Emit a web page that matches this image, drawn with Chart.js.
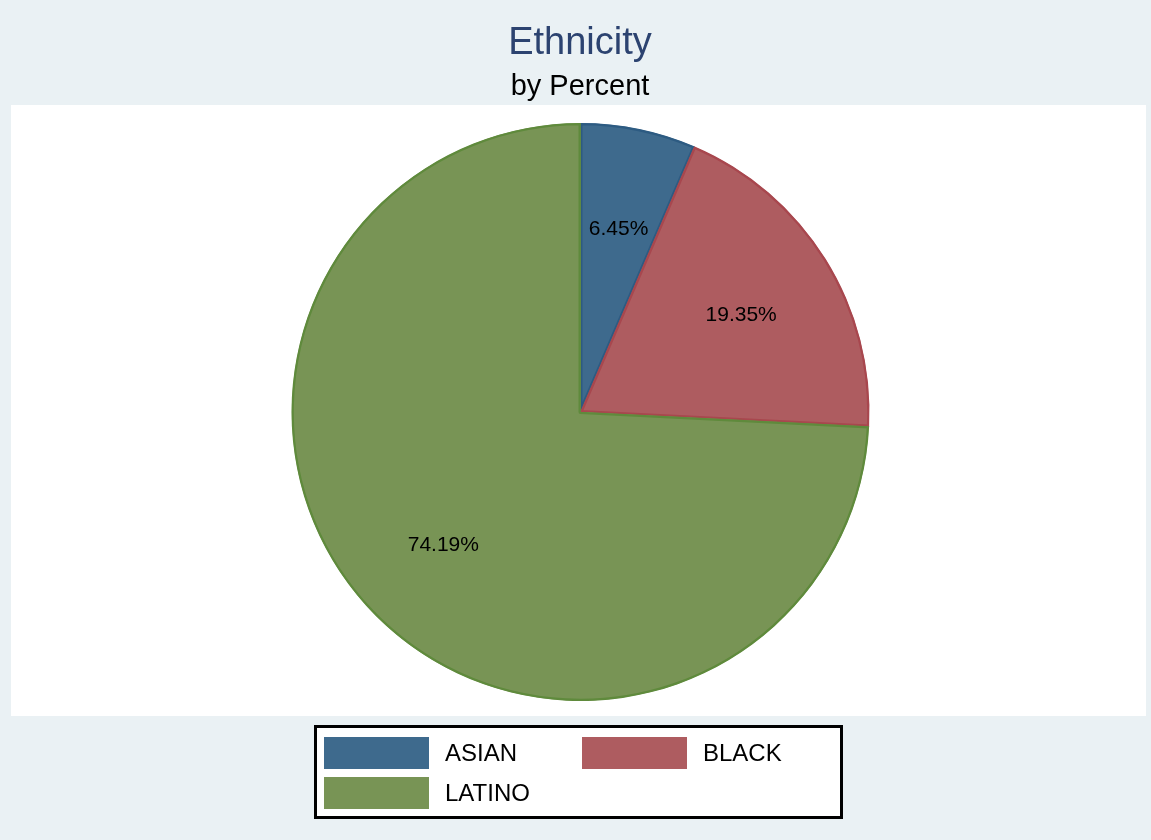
<!DOCTYPE html>
<html>
<head>
<meta charset="utf-8">
<title>Ethnicity</title>
<script src="https://cdn.jsdelivr.net/npm/chart.js@4.4.0/dist/chart.umd.min.js"></script>
<style>
  html, body { margin: 0; padding: 0; background: #eaf1f4; }
  #wrap { width: 1151px; height: 840px; }
</style>
</head>
<body>
<div id="wrap"><canvas id="ethnicityPie" width="1151" height="840"></canvas></div>
<script>
// ---------- DATA ----------
const categories = ["ASIAN", "BLACK", "LATINO"];
const percents = [6.45, 19.35, 74.19];

const fillColors = ["#3e6a8d", "#ae5c60", "#789455"];
const edgeColors = ["#2d5b82", "#a8474e", "#5f8a3c"];

const titleText = "Ethnicity";
const subtitleText = "by Percent";

// ---------- BACKGROUND + TITLES ----------
const backdropPlugin = {
    id: "backdrop",
    beforeDraw(chart) {
        const { ctx, width, height } = chart;
        ctx.save();
        ctx.fillStyle = "#eaf1f4";
        ctx.fillRect(0, 0, width, height);
        ctx.fillStyle = "#ffffff";
        ctx.fillRect(11, 105, 1135, 611);

        ctx.textAlign = "center";
        ctx.textBaseline = "alphabetic";
        ctx.fillStyle = "#2c4370";
        ctx.font = "38px 'Liberation Sans', Arial, sans-serif";
        ctx.fillText(titleText, 580, 54);
        ctx.fillStyle = "#000";
        ctx.font = "29px 'Liberation Sans', Arial, sans-serif";
        ctx.fillText(subtitleText, 580, 95);
        ctx.restore();
    }
};

// ---------- SLICE LABELS ----------
const sliceLabelPlugin = {
    id: "sliceLabels",
    afterDatasetsDraw(chart) {
        const { ctx } = chart;
        const arcs = chart.getDatasetMeta(0).data;
        ctx.save();
        ctx.font = "21px 'Liberation Sans', Arial, sans-serif";
        ctx.fillStyle = "#000";
        ctx.textAlign = "center";
        ctx.textBaseline = "middle";
        arcs.forEach((arc, i) => {
            const { x, y, startAngle, endAngle, outerRadius } = arc.getProps(
                ["x", "y", "startAngle", "endAngle", "outerRadius"], true);
            const mid = (startAngle + endAngle) / 2;
            const r = outerRadius * 0.655;
            ctx.fillText(percents[i].toFixed(2) + "%",
                x + Math.cos(mid) * r, y + Math.sin(mid) * r + 3);
        });
        ctx.restore();
    }
};

// ---------- LEGEND BOX ----------
const legendBoxPlugin = {
    id: "legendBox",
    afterDraw(chart) {
        const { ctx } = chart;
        ctx.save();
        ctx.fillStyle = "#ffffff";
        ctx.fillRect(315, 726, 527, 92);
        ctx.strokeStyle = "#000";
        ctx.lineWidth = 3;
        ctx.strokeRect(315.5, 726.5, 526, 91);

        ctx.font = "24px 'Liberation Sans', Arial, sans-serif";
        ctx.textAlign = "left";
        ctx.textBaseline = "middle";
        categories.forEach((name, i) => {
            const col = i % 2;
            const row = Math.floor(i / 2);
            const sx = 324 + col * 258;
            const sy = 737 + row * 40;
            ctx.fillStyle = fillColors[i];
            ctx.fillRect(sx, sy, 105, 32);
            ctx.fillStyle = "#000";
            ctx.fillText(name, sx + 121, sy + 17);
        });
        ctx.restore();
    }
};

// ---------- INIT CHART ----------
const canvas = document.getElementById("ethnicityPie");

new Chart(canvas, {
    type: "pie",
    data: {
        labels: categories,
        datasets: [{
            data: percents,
            backgroundColor: fillColors,
            borderColor: edgeColors,
            borderWidth: 2,
            borderAlign: "inner"
        }]
    },
    plugins: [backdropPlugin, sliceLabelPlugin, legendBoxPlugin],
    options: {
        responsive: false,
        animation: false,
        layout: {
            padding: { top: 123, bottom: 139, left: 291, right: 281 }
        },
        plugins: {
            legend: { display: false },
            title: { display: false },
            tooltip: { enabled: false }
        }
    }
});
</script>
</body>
</html>
